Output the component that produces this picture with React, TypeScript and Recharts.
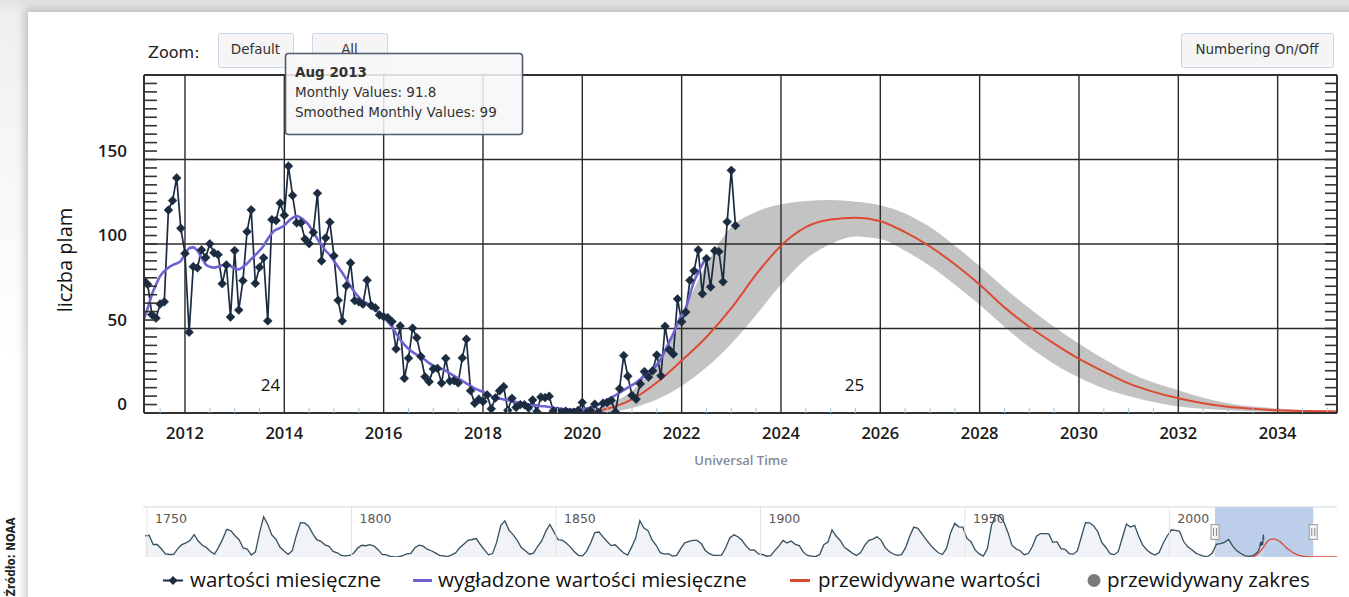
import React from 'react';
import {
  ComposedChart,
  Line,
  Area,
  XAxis,
  YAxis,
  ReferenceLine,
  ReferenceArea,
  ReferenceDot,
} from 'recharts';

// ---- visible window of the main chart (decimal years) ----
const X_MIN = 2011.175;
const X_MAX = 2035.195;

// ---- monthly sunspot numbers, March 2011 .. February 2023 ----
const FIRST_MONTH_YEAR = 2011;
const FIRST_MONTH_INDEX = 2; // March
const monthlyValues = [
  // 2011 (Mar-Dec)
  78.6, 76.1, 58.2, 56.1, 64.5, 65.8, 120.1, 125.7, 139.1, 109.3,
  // 2012
  94.4, 47.8, 86.6, 85.9, 96.5, 92.0, 100.1, 94.8, 93.7, 76.5, 87.6, 56.8,
  // 2013
  96.1, 60.9, 78.3, 107.3, 120.2, 76.7, 86.2, 91.8, 54.5, 114.4, 113.9, 124.2,
  // 2014
  117.0, 146.1, 128.7, 112.5, 112.5, 102.9, 100.2, 106.9, 130.0, 90.0, 103.6, 112.9,
  // 2015
  93.0, 66.7, 54.5, 75.3, 88.8, 66.5, 65.8, 64.4, 78.6, 63.6, 62.2, 58.0,
  // 2016
  57.0, 56.4, 54.1, 37.9, 51.5, 20.5, 32.4, 50.2, 44.6, 33.4, 21.4, 18.5,
  // 2017
  26.1, 26.4, 17.7, 32.3, 18.9, 19.2, 17.8, 32.6, 43.7, 13.2, 5.7, 8.2,
  // 2018
  6.8, 10.7, 2.5, 8.9, 13.1, 15.6, 1.6, 8.7, 3.3, 4.9, 4.9, 3.1,
  // 2019
  7.7, 0.8, 9.4, 9.1, 9.9, 1.2, 0.9, 0.5, 1.1, 0.4, 0.5, 1.5,
  // 2020
  6.2, 0.2, 1.5, 5.2, 0.2, 5.8, 6.1, 7.5, 0.6, 14.4, 34.0, 21.8,
  // 2021
  10.4, 8.2, 17.2, 24.5, 21.2, 25.0, 34.3, 22.0, 51.3, 37.4, 34.8, 67.5,
  // 2022
  54.0, 59.7, 78.5, 84.1, 96.5, 70.5, 91.4, 74.6, 96.0, 95.5, 77.6, 113.1,
  // 2023 (Jan-Feb)
  143.6, 110.9,
];

// ---- smoothed monthly values, March 2011 .. July 2022 ----
const smoothedValues = [
  // 2011 (Mar-Dec)
  55, 62, 70, 76, 81, 84, 86, 87.5, 88.5, 90,
  // 2012
  94, 97.5, 98, 96, 92, 88, 86.5, 86, 86.5, 87.5, 88, 87,
  // 2013
  85.5, 85, 86.5, 88.5, 91, 93.5, 96, 99, 103, 106.5, 108.5, 109.5,
  // 2014
  111, 113.5, 115.5, 116.5, 115.5, 113.5, 111, 107, 103, 99.5, 96, 93.5,
  // 2015
  90, 86.5, 83, 79, 75, 71.5, 68.5, 66, 65, 63, 61, 59,
  // 2016
  57, 54, 51, 47, 43.5, 40.5, 38, 36, 34.5, 33, 31.5, 29.5,
  // 2017
  28, 27, 26, 25, 23.5, 22, 20.5, 19, 17.5, 16, 14.5, 13.5,
  // 2018
  12.5, 11.5, 10, 9, 8.5, 8, 7.5, 7, 6.5, 6, 5.5, 5,
  // 2019
  4.5, 4.5, 4, 4, 3.5, 3.2, 2.8, 2.5, 2.2, 2, 2, 2,
  // 2020
  2.2, 2.6, 3.2, 4, 5, 6.5, 8, 9, 10.5, 12, 13.5, 15,
  // 2021
  16.5, 18, 20, 22, 24, 26, 28.5, 32, 37, 42, 47, 53,
  // 2022 (Jan-Jul)
  58, 62, 70, 78, 83, 88, 92,
];

// ---- predicted cycle 25 (mid value and range) ----
const predTimes = [
  2020.0, 2020.5, 2021.0, 2021.5, 2022.0, 2022.5, 2023.0, 2023.5, 2024.0, 2024.5,
  2025.0, 2025.5, 2026.0, 2026.5, 2027.0, 2027.5, 2028.0, 2028.5, 2029.0, 2029.5,
  2030.0, 2030.5, 2031.0, 2031.5, 2032.0, 2032.5, 2033.0, 2033.5, 2034.0, 2034.5,
  2035.0, 2035.5, 2036, 2037, 2038, 2039, 2040, 2041,
];
const predMid = [
  0.3, 2.5, 8, 18, 31, 45, 62, 82, 99, 110,
  114.5, 115.5, 113.5, 107, 98.5, 88, 76, 62.5, 51, 41,
  32, 24.5, 17.5, 12.5, 8.7, 5.8, 3.7, 2.5, 1.6, 1.2,
  1.0, 0.9, 0.8, 0.7, 0.6, 0.6, 0.6, 0.6,
];
const predLow = [
  0, 0.5, 3, 8, 16, 27, 41, 58, 76, 91,
  100, 104.5, 103, 96, 87, 76, 64, 51, 39, 29,
  21, 14.5, 10, 6.5, 3.8, 2.5, 1.7, 1.1, 0.7, 0.4,
  0.3, 0.2, 0.1, 0.1, 0.1, 0.1, 0.1, 0.1,
];
const predHigh = [
  0.6, 5, 13, 30, 58, 88, 110, 119, 123.5, 125.5,
  126, 125, 123, 118, 110, 99, 87, 74, 62, 51,
  41, 32, 24, 18, 13.5, 9, 5.8, 3.8, 2.7, 1.8,
  1.3, 1.0, 0.7, 0.5, 0.4, 0.4, 0.4, 0.4,
];

// ---- yearly sunspot numbers 1749 .. 2022 for the overview strip ----
const FIRST_YEAR = 1749;
const yearlyMeans = [
  135, 139, 80, 80, 51, 20, 16, 17, 54, 79,
  90, 105, 143, 102, 75, 61, 35, 19, 63, 116,
  177, 168, 136, 111, 58, 51, 12, 33, 154, 257,
  210, 141, 114, 64, 38, 17, 40, 138, 220, 218,
  197, 150, 111, 100, 78, 68, 36, 27, 11, 7,
  11, 24, 57, 75, 72, 79, 70, 47, 17, 14,
  4, 0, 2, 8, 20, 23, 59, 76, 69, 50,
  40, 26, 11, 7, 3, 14, 28, 61, 83, 107,
  112, 118, 80, 46, 14, 22, 95, 203, 231, 172,
  143, 108, 61, 40, 18, 25, 67, 103, 164, 208,
  161, 111, 108, 90, 65, 34, 11, 7, 38, 91,
  156, 160, 129, 99, 73, 78, 51, 27, 12, 63,
  123, 232, 185, 169, 110, 75, 28, 19, 21, 6,
  10, 54, 91, 100, 106, 106, 87, 42, 22, 11,
  11, 12, 59, 122, 142, 130, 107, 70, 44, 45,
  20, 16, 5, 8, 41, 70, 106, 90, 103, 81,
  73, 31, 10, 6, 2, 16, 79, 95, 173, 134,
  106, 63, 44, 24, 10, 28, 74, 107, 115, 130,
  108, 60, 35, 19, 10, 15, 60, 133, 191, 183,
  148, 113, 79, 51, 27, 16, 55, 154, 215, 193,
  191, 119, 98, 45, 20, 6, 54, 201, 269, 262,
  225, 159, 76, 53, 40, 15, 22, 67, 133, 150,
  149, 148, 94, 98, 54, 49, 22, 18, 39, 131,
  220, 219, 199, 162, 91, 61, 21, 15, 34, 123,
  211, 192, 203, 133, 76, 45, 25, 12, 29, 88,
  136, 174, 170, 164, 99, 65, 46, 25, 13, 4,
  5, 25, 81, 85, 94, 113, 70, 40, 22, 7,
  4, 9, 29, 83,
];

// ---- axis ticks and labels ----
const yTicks = Array.from({ length: 41 }, (_, i) => i * 5);
const yLabels = [0, 50, 100, 150];
const xTicks = Array.from({ length: 48 }, (_, i) => 2011.5 + i * 0.5);
const gridYears = [2012, 2014, 2016, 2018, 2020, 2022, 2024, 2026, 2028, 2030, 2032, 2034];
const gridValues = [50, 100, 150];
const cycleLabels = [
  { t: 2013.72, v: 16.3, name: '24' },
  { t: 2025.48, v: 16.3, name: '25' },
];
const navYears = [1750, 1800, 1850, 1900, 1950, 2000];

const legendItems = [
  { kind: 'monthly', label: 'wartości miesięczne' },
  { kind: 'smoothed', label: 'wygładzone wartości miesięczne' },
  { kind: 'predicted', label: 'przewidywane wartości' },
  { kind: 'range', label: 'przewidywany zakres' },
];

const tooltipLines = {
  title: 'Aug 2013',
  monthly: 'Monthly Values: 91.8',
  smoothed: 'Smoothed Monthly Values: 99',
};

// ---- colours ----
const C_MONTHLY = '#1b2b40';
const C_SMOOTH = '#6f62d2';
const C_PRED = '#dc4a33';
const C_GRID = '#2a2a2a';

const SANS = "'Open Sans', 'DejaVu Sans', sans-serif";
const UI = "'DejaVu Sans', sans-serif";

// ---- series tables ----
const monthTime = (i: number) => FIRST_MONTH_YEAR + (FIRST_MONTH_INDEX + i) / 12;
const monthlyRows = monthlyValues.map((v, i) => ({ t: monthTime(i), m: v }));
const smoothedRows = smoothedValues.map((v, i) => ({ t: monthTime(i), s: v }));
const predRows = predTimes.map((t, i) => ({
  t,
  p: predMid[i],
  band: [predLow[i], predHigh[i]] as [number, number],
}));

const historyRows = [
  ...yearlyMeans
    .map((v, i) => ({ t: FIRST_YEAR + i + 0.5, h: v }))
    .filter((r) => r.t < 2022),
  ...monthlyRows.filter((r) => r.t >= 2022).map((r) => ({ t: r.t, h: r.m })),
];

// ---- custom marks ----
const Diamond = (props: any) => {
  const { cx, cy } = props;
  if (cx == null || cy == null || Number.isNaN(cy)) return <g />;
  const r = 4.4;
  return (
    <path
      d={`M${cx},${cy - r}L${cx + r},${cy}L${cx},${cy + r}L${cx - r},${cy}Z`}
      fill={C_MONTHLY}
      stroke={C_MONTHLY}
      strokeWidth={0.6}
    />
  );
};

const LeftTick = (props: any) => {
  const { x, y, payload } = props;
  const v = payload.value;
  return (
    <g>
      <line x1={x} x2={x + 13} y1={y} y2={y} stroke="#333" strokeWidth={1.6} />
      {yLabels.includes(v) ? (
        <text
          x={x - 17}
          y={y - 2.7}
          textAnchor="end"
          fontFamily={SANS}
          fontWeight={600}
          fontSize={17}
          fill="#1a1a1a"
        >
          {v}
        </text>
      ) : null}
    </g>
  );
};

const RightTick = (props: any) => {
  const { x, y } = props;
  return <line x1={x - 12} x2={x} y1={y} y2={y} stroke="#333" strokeWidth={1.6} />;
};

const BottomTick = (props: any) => {
  const { x, y, payload } = props;
  const v = payload.value;
  const major = Number.isInteger(v) && v % 2 === 0;
  if (major) {
    return (
      <text
        x={x}
        y={y + 26}
        textAnchor="middle"
        fontFamily={SANS}
        fontWeight={600}
        fontSize={16.5}
        fill="#1a1a1a"
      >
        {v}
      </text>
    );
  }
  return <line x1={x} x2={x} y1={y} y2={y - 5} stroke="#9cc6e0" strokeWidth={1} />;
};

const NavLabel = (props: any) => {
  const vb = props.viewBox || {};
  return (
    <text x={(vb.x || 0) + 8} y={(vb.y || 0) + 16} fontFamily={UI} fontSize={12.5} fill="#555">
      {props.text}
    </text>
  );
};

const NavHandle = (props: any) => {
  const vb = props.viewBox || {};
  const x = vb.x || 0;
  const y = vb.y || 0;
  return (
    <g>
      <rect x={x - 4} y={y + 17.5} width={8} height={15} fill="#f2f2f2" stroke="#9a9a9a" />
      <line x1={x - 1.5} x2={x - 1.5} y1={y + 21} y2={y + 29} stroke="#8a8a8a" />
      <line x1={x + 1.5} x2={x + 1.5} y1={y + 21} y2={y + 29} stroke="#8a8a8a" />
    </g>
  );
};

const Button = ({ x, w, text }: { x: number; w: number; text: string }) => (
  <g>
    <rect x={x + 0.5} y={33.5} width={w} height={34} rx={2} fill="#f5f5f5" stroke="#c9d8e6" />
    <text x={x + w / 2} y={54} textAnchor="middle" fontFamily={UI} fontSize={13.5} fill="#333">
      {text}
    </text>
  </g>
);

const legendX = [
  { sym: 163, text: 190 },
  { sym: 413, text: 438 },
  { sym: 790, text: 818 },
  { sym: 1088, text: 1107 },
];

const LegendSymbol = ({ kind, x }: { kind: string; x: number }) => {
  const y = 580.5;
  if (kind === 'monthly') {
    const r = 4.5;
    const cx = x + 10;
    return (
      <g>
        <line x1={x} x2={x + 20} y1={y} y2={y} stroke={C_MONTHLY} strokeWidth={2} />
        <path d={`M${cx},${y - r}L${cx + r},${y}L${cx},${y + r}L${cx - r},${y}Z`} fill={C_MONTHLY} />
      </g>
    );
  }
  if (kind === 'smoothed') {
    return <line x1={x} x2={x + 19} y1={y} y2={y} stroke={C_SMOOTH} strokeWidth={3} />;
  }
  if (kind === 'predicted') {
    return <line x1={x} x2={x + 20} y1={y} y2={y} stroke={C_PRED} strokeWidth={3} />;
  }
  return <circle cx={x + 6} cy={y} r={6.5} fill="#7a7a7a" />;
};

export default function App() {
  return (
    <div
      style={{
        position: 'fixed',
        left: 0,
        top: 0,
        width: 1349,
        height: 597,
        background: 'linear-gradient(180deg, #e2e2e2 0px, #efefef 14px, #f7f7f7 160px, #ffffff 360px)',
        overflow: 'hidden',
      }}
    >
      {/* page panel */}
      <div
        style={{
          position: 'absolute',
          left: 28,
          top: 12,
          width: 1340,
          height: 600,
          background: '#ffffff',
          boxShadow: '-3px -3px 9px rgba(0,0,0,0.22)',
        }}
      />

      {/* main chart */}
      <div style={{ position: 'absolute', left: 0, top: 0 }}>
        <ComposedChart width={1349} height={470} margin={{ top: 75, right: 0, bottom: 27, left: 84 }}>
          <XAxis
            dataKey="t"
            type="number"
            domain={[X_MIN, X_MAX]}
            allowDataOverflow
            ticks={xTicks}
            interval={0}
            tick={<BottomTick />}
            tickLine={false}
            tickSize={0}
            tickMargin={0}
            height={30}
            axisLine={{ stroke: '#333', strokeWidth: 2 }}
          />
          <YAxis
            type="number"
            domain={[0, 200]}
            allowDataOverflow
            ticks={yTicks}
            interval={0}
            tick={<LeftTick />}
            tickLine={false}
            tickSize={0}
            tickMargin={0}
            width={60}
            axisLine={{ stroke: '#333', strokeWidth: 2 }}
          />
          <YAxis
            yAxisId="right"
            orientation="right"
            type="number"
            domain={[0, 200]}
            allowDataOverflow
            ticks={yTicks}
            interval={0}
            tick={<RightTick />}
            tickLine={false}
            tickSize={0}
            tickMargin={0}
            width={12}
            axisLine={{ stroke: '#333', strokeWidth: 2 }}
          />

          {gridYears.map((yr) => (
            <ReferenceLine key={`gx${yr}`} x={yr} stroke={C_GRID} strokeWidth={1.4} />
          ))}
          {gridValues.map((v) => (
            <ReferenceLine key={`gy${v}`} y={v} stroke={C_GRID} strokeWidth={1.4} />
          ))}
          <ReferenceLine y={200} stroke="#333" strokeWidth={2} />

          {/* translucent so the grid stays visible through the range band */}
          <Area
            data={predRows}
            dataKey="band"
            type="monotone"
            stroke="none"
            fill="#7a7a7a"
            fillOpacity={0.45}
            isAnimationActive={false}
            activeDot={false}
          />

          {cycleLabels.map((c) => (
            <ReferenceDot
              key={c.name}
              x={c.t}
              y={c.v}
              r={0}
              fill="none"
              stroke="none"
              label={{ value: c.name, position: 'center', fill: '#111', fontSize: 17, fontFamily: SANS }}
            />
          ))}

          <Line
            data={predRows}
            dataKey="p"
            type="monotone"
            stroke={C_PRED}
            strokeWidth={2}
            dot={false}
            activeDot={false}
            isAnimationActive={false}
          />
          <Line
            data={monthlyRows}
            dataKey="m"
            type="linear"
            stroke={C_MONTHLY}
            strokeWidth={1.7}
            dot={<Diamond />}
            activeDot={false}
            isAnimationActive={false}
          />
          <Line
            data={smoothedRows}
            dataKey="s"
            type="monotone"
            stroke={C_SMOOTH}
            strokeWidth={2.6}
            dot={false}
            activeDot={false}
            isAnimationActive={false}
          />
        </ComposedChart>
      </div>

      {/* overview strip */}
      <div style={{ position: 'absolute', left: 0, top: 495 }}>
        <ComposedChart width={1349} height={75} margin={{ top: 12, right: 12, bottom: 13, left: 143 }}>
          <XAxis dataKey="t" type="number" domain={[1749, 2041]} allowDataOverflow hide />
          <YAxis type="number" domain={[0, 320]} allowDataOverflow hide />
          {navYears.map((yr) => (
            <ReferenceLine
              key={`n${yr}`}
              x={yr}
              stroke="#e4e4e4"
              strokeWidth={1}
              label={<NavLabel text={String(yr)} />}
            />
          ))}
          <ReferenceLine y={320} stroke="#cfd8e6" strokeWidth={1.2} />
          <ReferenceArea x1={X_MIN} x2={X_MAX} fill="#b2c5e8" fillOpacity={0.85} stroke="none" />
          <Area
            data={historyRows}
            dataKey="h"
            type="linear"
            stroke="#34505f"
            strokeWidth={1.3}
            fill="#dfe5ee"
            fillOpacity={0.45}
            dot={false}
            activeDot={false}
            isAnimationActive={false}
          />
          <Line
            data={predRows}
            dataKey="p"
            type="monotone"
            stroke={C_PRED}
            strokeWidth={1.3}
            dot={false}
            activeDot={false}
            isAnimationActive={false}
          />
          <ReferenceLine x={X_MIN} stroke="none" label={<NavHandle />} />
          <ReferenceLine x={X_MAX} stroke="none" label={<NavHandle />} />
        </ComposedChart>
      </div>

      {/* texts, buttons, legend and the hover box */}
      <svg
        width={1349}
        height={597}
        style={{ position: 'absolute', left: 0, top: 0, pointerEvents: 'none' }}
      >
        <text x={148} y={58} fontFamily={UI} fontSize={16} fill="#222">
          Zoom:
        </text>
        <Button x={218} w={75} text="Default" />
        <Button x={312} w={75} text="All" />
        <Button x={1181} w={152} text="Numbering On/Off" />

        <text
          transform="translate(71.5,260) rotate(-90)"
          textAnchor="middle"
          fontFamily={SANS}
          fontSize={20}
          fill="#111"
        >
          liczba plam
        </text>

        <text x={741} y={464.5} textAnchor="middle" fontFamily={SANS} fontWeight={600} fontSize={13} fill="#7f8c99">
          Universal Time
        </text>

        {legendItems.map((it, i) => (
          <g key={it.kind}>
            <LegendSymbol kind={it.kind} x={legendX[i].sym} />
            <text x={legendX[i].text} y={586.5} fontFamily={SANS} fontSize={20.5} fill="#111">
              {it.label}
            </text>
          </g>
        ))}

        <text
          transform="translate(14.5,557) rotate(-90)"
          textAnchor="middle"
          fontFamily="'DejaVu Sans Condensed', 'DejaVu Sans', sans-serif"
          fontWeight={700}
          fontSize={11.5}
          fill="#222"
        >
          Źródło: NOAA
        </text>

        <g>
          <rect
            x={285.5}
            y={53.5}
            width={237}
            height={81}
            rx={3}
            fill="rgba(247,247,247,0.86)"
            stroke="#4d5d6d"
            strokeWidth={1.6}
          />
          <text x={295} y={77} fontFamily={UI} fontWeight={700} fontSize={13.5} fill="#333">
            {tooltipLines.title}
          </text>
          <text x={295} y={97} fontFamily={UI} fontSize={13.5} fill="#333">
            {tooltipLines.monthly}
          </text>
          <text x={295} y={116.5} fontFamily={UI} fontSize={13.5} fill="#333">
            {tooltipLines.smoothed}
          </text>
        </g>
      </svg>
    </div>
  );
}
